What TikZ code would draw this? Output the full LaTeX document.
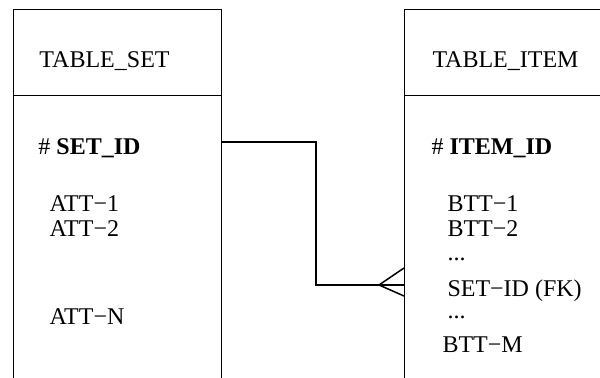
\documentclass[tikz,border=0pt]{standalone}
\usepackage{fontspec}
\setmainfont{Liberation Serif}
\usetikzlibrary{positioning}

\begin{document}
\begin{tikzpicture}[x=0.5pt, y=-0.5pt, line width=0.5pt,
        attr/.style={anchor=base west, inner sep=0pt, font=\fontsize{12}{14}\selectfont}]
        \useasboundingbox (0,0) rectangle (600,378);
        \clip (0,0) rectangle (600,378);

        % Table boxes (open at the bottom)
        \draw (13,378) -- (13,10) -- (221,10) -- (221,378);
        \draw (13,96) -- (221,96);
        \draw (404,378) -- (404,10) -- (610,10);
        \draw (404,96) -- (610,96);

        % Left table: TABLE_SET
        \node[attr] (setname) at (39,68) {TABLE\_SET};
        \node[attr] (setid) at (38,155) {\# \textbf{SET\_ID}};
        \node[attr] (att1) at (49,212) {ATT−1};
        \node[attr] (att2) at (49,237) {ATT−2};
        \node[attr] (attn) at (49,325) {ATT−N};

        % Right table: TABLE_ITEM
        \node[attr] (itemname) at (432,68) {TABLE\_ITEM};
        \node[attr] (itemid) at (431,155) {\# \textbf{ITEM\_ID}};
        \node[attr] (btt1) at (447,212) {BTT−1};
        \node[attr] (btt2) at (447,237) {BTT−2};
        \node[attr] (dots1) at (447,261) {...};
        \node[attr] (setfk) at (447,297) {SET−ID (FK)};
        \node[attr] (dots2) at (447,319) {...};
        \node[attr] (bttm) at (442,353) {BTT−M};

        % One-to-many relationship
        \coordinate (setend) at (221,142);
        \coordinate (itemend) at (404,285);
        \coordinate (foot) at (379,285);
        \draw[line width=0.75pt] (setend) -- ++(95,0) |- (itemend);
        \draw[line width=0.75pt] (foot) -- (404,268);
        \draw[line width=0.75pt] (foot) -- (404,296);

    \end{tikzpicture}
\end{document}
